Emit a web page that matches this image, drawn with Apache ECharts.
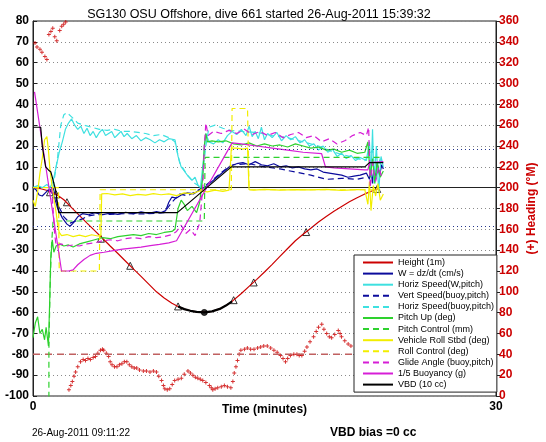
<!DOCTYPE html>
<html><head><meta charset="utf-8">
<script src="https://cdn.jsdelivr.net/npm/echarts@6/dist/echarts.min.js"></script>
<style>html,body{margin:0;padding:0;background:#fff}#c{width:546px;height:442px}</style>
</head><body><div id="c"></div>
<script>
// ---- data (time in minutes) ----
const titleText = 'SG130 OSU Offshore, dive 661 started 26-Aug-2011 15:39:32';
const legendNames = ['Height (1m)','W = dz/dt (cm/s)','Horiz Speed(W,pitch)','Vert Speed(buoy,pitch)','Horiz Speed(buoy,pitch)','Pitch Up (deg)','Pitch Control (mm)','Vehicle Roll Stbd (deg)','Roll Control (deg)','Glide Angle (buoy,pitch)','1/5 Buoyancy (g)','VBD (10 cc)'];
const xTicks = [0, 30];
const leftTicks = [-100, 80, 10];
const rightTicks = [0, 360, 20];

const heightData = [[0,0],[0.5,-0.5],[1,-1.5],[1.5,-3.2],[2,-5.8],[2.5,-9.6],[3,-13.3],[3.5,-17],[4,-20.6],[4.5,-24.3],[5,-28],[5.5,-31.6],[6,-35.3],[6.5,-39],[7,-42.6],[7.5,-46.3],[8,-50],[8.5,-53],[9,-55.5],[9.4,-57],[9.8,-58.3],[10.2,-59.1],[10.6,-59.6],[11.1,-59.9],[11.6,-59.4],[12.1,-58.2],[12.5,-56.6],[12.9,-54.6],[13.5,-50.8],[14,-47.4],[14.5,-44],[15,-40.5],[15.5,-36.8],[16,-33],[16.5,-29.2],[17,-25.5],[17.5,-22.4],[18,-19.5],[18.5,-16.5],[19,-13.8],[19.5,-11.3],[20,-9],[20.5,-6.8],[21,-4.8],[21.5,-3],[22,-1.5],[22.4,-0.4]];
const apogeeData = [[9.4,-57],[9.8,-58.3],[10.2,-59.1],[10.6,-59.6],[11.1,-59.9],[11.6,-59.4],[12.1,-58.2],[12.5,-56.6],[12.9,-54.6]];
const eventData = [[1.1,-2.2],[1.5,-3.2],[2.2,-7],[4.4,-24.5],[6.3,-37.5],[9.4,-57],[13.0,-54],[14.3,-45.5],[17.7,-21.3],[22.3,-0.6]];
const apogeePoint = [[11.1,-59.9]];

const wData = [[0,0],[0.2,-1],[0.4,-3.5],[0.6,-4],[0.8,-2.5],[1.0,-1],[1.2,-2],[1.4,-5],[1.6,-10],[1.9,-14.5],[2.2,-17.5],[2.4,-18.5],[2.6,-17],[2.9,-14],[3.2,-12.5],[3.6,-13],[4,-12],[4.5,-13],[5,-12.2],[5.5,-12.8],[6,-11.8],[6.5,-12.5],[7,-11.6],[7.5,-12.3],[8,-11.5],[8.3,-12],[8.6,-11],[8.8,-7],[9,-4.5],[9.3,-5],[9.6,-3.5],[10,-2.5],[10.4,-3],[10.8,-1],[11.2,0.5],[11.6,3],[12,5.5],[12.4,8],[12.8,10.5],[13.2,11.5],[13.6,12],[14,11],[14.4,12.5],[14.8,11],[15.2,10.5],[15.6,11.5],[16,10],[16.4,10.5],[16.8,9.5],[17.2,10],[17.6,9],[18,8.5],[18.4,9],[18.8,7.5],[19.2,7],[19.6,6.5],[20,6],[20.4,5],[20.8,5.5],[21.2,6],[21.6,7],[21.8,4],[21.9,9],[22.0,2],[22.1,10],[22.2,4],[22.3,12],[22.45,6],[22.6,11],[22.7,9]];
const horizWData = [[0,0],[0.3,1],[0.6,0],[0.9,1.5],[1.1,0],[1.3,3],[1.5,10],[1.7,17],[1.9,22],[2.1,28],[2.3,31],[2.5,33],[2.7,30],[2.9,28],[3.1,29.5],[3.3,26],[3.5,28.5],[3.7,25],[3.9,27],[4.1,24],[4.3,26.5],[4.5,28],[4.7,25],[4.9,26],[5.1,27],[5.3,24],[5.5,25.5],[5.7,27],[5.9,24.5],[6.1,26],[6.4,23.5],[6.7,25],[7,22.5],[7.3,24],[7.6,23],[7.9,21.5],[8.2,23],[8.5,22],[8.8,23.5],[9.2,23],[9.4,15],[9.6,10],[9.8,8],[10,6],[10.3,3.5],[10.5,5],[10.7,1],[10.85,0],[11.05,14],[11.2,26],[11.4,22],[11.7,21],[12.0,23],[12.3,21.5],[12.6,25],[12.9,27],[13.2,25.5],[13.5,28],[13.8,25],[14.0,29.5],[14.2,24.5],[14.4,27],[14.6,23.5],[14.8,29],[15.0,23],[15.2,26],[15.5,24],[15.8,26.5],[16.1,22.5],[16.4,25],[16.7,23],[17.0,24.5],[17.3,21.5],[17.6,23],[17.9,20],[18.2,21],[18.5,18],[18.8,20],[19.1,17],[19.4,18.5],[19.7,15],[20.0,16.5],[20.3,14],[20.6,15.5],[20.9,13],[21.2,14.5],[21.6,13],[21.8,22],[21.9,5],[22,28],[22.1,2],[22.25,20],[22.4,-2],[22.55,15],[22.7,10]];
const vertBuoyData = [[1.3,0],[1.6,-8],[2,-14],[2.4,-17],[2.8,-16],[3.2,-15],[3.6,-13.5],[4,-13],[5,-12.8],[6,-12.5],[7,-12.6],[8,-12.3],[8.5,-12],[9,-7],[9.5,-3],[10,-4],[10.5,-2],[11,0],[11.5,3],[12,6],[12.5,9],[13,11],[14,11.5],[15,10],[16,9],[17,7.5],[18,6],[19,4],[20,4.5],[21,4],[21.6,5]];
const horizBuoyData = [[1.3,0],[1.6,15],[1.8,30],[2.0,35],[2.2,36],[2.5,34],[2.9,31],[3.3,30],[3.8,29],[4.3,28],[4.8,27.5],[5.3,28],[5.8,27],[6.3,27],[6.8,26.5],[7.3,26],[7.8,25],[8.3,25.5],[8.8,24],[9.2,22],[9.5,12],[10,6],[10.5,2],[10.9,0],[11.2,20],[11.4,29],[11.8,30],[12.3,28.5],[12.8,27.5],[13.5,27],[14.5,26.5],[15.5,25],[16.5,24],[17.5,22],[18.5,20],[19.5,17],[20.5,15],[21.5,13],[22,18],[22.2,6],[22.5,14]];
const pitchData = [[0,-72],[0.15,-65],[0.3,-62],[0.45,-70],[0.6,-68],[0.75,-73],[0.85,-67],[1.0,-76],[1.08,-55],[1.15,-34],[1.25,-25],[1.35,-31],[1.5,-28],[1.7,-27],[2,-28],[2.3,-27.5],[2.6,-28.5],[3,-27],[3.5,-26],[4,-25],[4.5,-24],[5,-24.5],[5.5,-23.5],[6,-23],[6.5,-22.5],[7,-23],[7.5,-22],[8,-22.5],[8.5,-21.5],[9,-21],[9.2,-20],[9.4,-10],[9.6,-6],[9.8,-8],[10,-11],[10.3,-9],[10.6,-12],[10.8,-7],[11.0,5],[11.1,20],[11.2,26],[11.3,22],[11.6,22.5],[12,22],[12.5,22.5],[13,21],[13.5,20.5],[14,21.5],[14.5,20],[15,21],[15.5,20],[16,20.5],[16.5,19.5],[17,21],[17.5,20],[18,19],[18.5,19.5],[19,18],[19.5,18.5],[20,17],[20.5,18],[21,16.5],[21.5,17],[21.7,22],[21.85,5],[22,14],[22.15,2],[22.3,12],[22.5,5],[22.7,8]];
const pitchCtlData = [[1.03,-120],[1.03,-78],[1.1,-50],[1.18,-30],[1.3,-16],[3,-16],[6,-16],[9.3,-16],[11.1,-16],[11.15,14.5],[15,14.5],[20.5,14.5],[22.5,14.5]];
const rollData = [[0,-6],[0.15,-9],[0.3,-2],[0.45,7],[0.6,14],[0.75,23],[0.9,24.5],[1.0,18],[1.1,8.5],[1.3,-2.6],[1.5,-12],[1.6,-18],[1.7,-21.5],[1.85,-23],[2.2,-22.5],[2.6,-23.5],[3,-22.8],[3.4,-23.5],[3.8,-22.6],[4.2,-23.2],[4.4,-23],[4.45,-3],[4.8,-2.8],[5.3,-3.5],[5.8,-3],[6.3,-3.8],[6.8,-3.2],[7.3,-3.6],[7.8,-2.9],[8.3,-3.4],[8.8,-3],[9.3,-3.8],[9.8,-2.5],[10.3,-3],[10.8,-1.5],[11.3,-2],[11.8,-1.2],[12.3,-1.8],[12.7,-1.2],[12.85,19],[13.2,19],[13.6,18.5],[13.9,19],[14.0,-1],[14.3,-1.2],[15,-0.8],[16,-1.2],[17,-0.9],[18,-1.1],[19,-0.8],[20,-1.3],[21,-0.9],[21.5,-1],[21.7,-8],[21.8,3],[21.9,-11],[22.05,1],[22.2,-4],[22.35,2],[22.5,-6],[22.7,-3]];
const rollCtlData = [[0,0],[1.65,0],[1.7,-40],[4.3,-40],[4.35,-1],[12.85,-1],[12.9,38],[13.9,38],[14.0,-1],[22.5,-1]];
const glideData = [[1.2,0],[1.3,-10],[1.4,-22],[1.5,-28],[1.8,-27],[2.2,-28],[2.6,-27.5],[3,-28],[3.5,-27],[4,-26.5],[4.5,-25.5],[5,-25],[5.5,-25.5],[6,-24.5],[6.5,-24],[7,-24.5],[7.5,-23.5],[8,-24],[8.5,-23.5],[9,-22.5],[9.3,-21],[9.6,-18],[9.9,-22],[10.2,-20],[10.5,-23],[10.8,-17],[11,0],[11.1,20],[11.2,31],[11.35,25],[11.7,27],[12.2,26],[12.7,27.5],[13.2,26],[13.7,28],[14.2,25.5],[14.7,27],[15.2,25],[15.7,26.5],[16.2,24],[16.7,25.5],[17.2,26.5],[17.7,24],[18.2,25],[18.7,22],[19.2,23.5],[19.7,21],[20.2,22.5],[20.7,25],[21.2,26.5],[21.6,25],[21.75,29],[21.85,0],[22,12],[22.2,3],[22.4,10],[22.6,5]];
const buoyData = [[0.1,46],[1.85,-40],[2.3,-40],[2.6,-39.5],[2.9,-37],[3.3,-34.5],[3.7,-32.5],[4.1,-31.5],[4.6,-31],[5.2,-30.2],[5.8,-29.5],[6.4,-29],[7,-28.5],[7.6,-27.8],[8.2,-27.2],[8.8,-26.5],[9.3,-25.5],[12.9,21.5],[13.5,21],[14.5,20],[15.5,19],[16.5,18],[17.5,17],[18.7,16.3],[18.95,10],[19.5,9.5],[20.5,9],[21.5,8.5],[21.7,8.5],[21.8,12],[22.7,12.5]];
const vbdData = [[0,29],[0.5,29],[0.6,20],[0.82,10],[1.0,8.5],[1.16,7.5],[1.24,5.3],[1.46,-1],[1.67,-12],[2,-12],[9.35,-12],[12.85,10],[21.5,10],[21.8,12],[22.7,12]];
const headingData = [[0.13,339],[0.26,335],[0.45,333],[0.58,330],[0.77,326],[0.9,323],[1.03,347],[1.16,350],[1.28,353],[1.41,345],[1.54,341],[1.73,351],[1.86,355],[1.99,357],[2.12,359],[2.33,6],[2.45,10],[2.55,14],[2.66,19],[2.76,23],[2.9,28],[3.08,33],[3.25,35],[3.4,34],[3.56,36],[3.72,35],[3.9,37],[4.05,38],[4.2,41],[4.37,44],[4.5,45],[4.58,44],[4.75,41],[4.9,38],[5.0,33],[5.12,30],[5.28,28],[5.44,28],[5.6,30],[5.76,31],[5.92,33],[6.08,33],[6.24,30],[6.4,28],[6.56,27],[6.72,27],[6.9,25],[7.15,24],[7.35,24],[7.58,23],[7.8,24],[8.0,23],[8.15,19],[8.33,15],[8.45,10],[8.54,7],[8.7,6],[8.86,7],[9.02,11],[9.18,15],[9.4,16],[9.61,17],[9.8,21],[10.04,24],[10.2,22],[10.36,20],[10.52,18],[10.68,17],[10.84,16],[11.0,15],[11.2,13],[11.43,10],[11.55,8],[11.65,6],[11.8,7],[11.97,8],[12.2,9],[12.4,10],[12.6,9],[12.82,8],[12.95,14],[13.04,22],[13.15,28],[13.25,34],[13.36,40],[13.47,44],[13.7,45],[13.89,46],[14.1,45],[14.32,45],[14.55,46],[14.75,47],[14.95,48],[15.18,48],[15.4,46],[15.61,44],[15.82,42],[16.04,39],[16.2,36],[16.36,33],[16.5,36],[16.68,39],[16.9,40],[17.1,40],[17.25,39],[17.42,39],[17.6,43],[17.75,47],[17.95,52],[18.18,57],[18.35,62],[18.5,66],[18.71,69],[18.85,64],[19.03,60],[19.2,57],[19.35,56],[19.55,59],[19.78,63],[19.9,60],[19.99,57],[20.2,53],[20.42,50],[20.6,48]];
const headingTarget = [[0,40],[22.5,40]];
const glideLimits = [18.5, -18.5];
const bottomLeftText = '26-Aug-2011 09:11:22';
const bottomRightText = 'VBD bias =0 cc';

// ---- chart ----
const FONT = 'Liberation Sans, Arial, sans-serif';
const C = {red:'#cc0000', navy:'#0b0b9c', cyan:'#3ee0e0', green:'#2ed12e', yellow:'#f2ee00', magenta:'#d61ed6', black:'#000'};
function line(name, data, color, dashed, extra) {
  return Object.assign({
    name, type:'line', data, symbol:'none', clip:true, animation:false,
    lineStyle:{color, width:1.2, type: dashed ? [6,4] : 'solid'},
    itemStyle:{color}, emphasis:{disabled:true}
  }, extra || {});
}
const chart = echarts.init(document.getElementById('c'), null, {renderer:'canvas'});
const option = {
  animation:false,
  backgroundColor:'#fff',
  title:{text:titleText, left:254, top:3, textAlign:'center',
    textStyle:{fontFamily:FONT, fontSize:12.5, fontWeight:'normal', color:'#000'}},
  grid:{left:33, right:47, top:21, bottom:46, show:true, borderColor:'#222', borderWidth:1, backgroundColor:'#fff'},
  legend:{
    data:legendNames, orient:'vertical', left:354, top:255,
    itemWidth:30, itemHeight:10, itemGap:2.1, padding:[3,3,3,8],
    backgroundColor:'#fff', borderColor:'#222', borderWidth:1, borderRadius:0,
    selectedMode:false,
    itemStyle:{opacity:0, borderWidth:0},
    textStyle:{fontFamily:FONT, fontSize:9, color:'#000'}
  },
  xAxis:{type:'value', min:xTicks[0], max:xTicks[1], interval:xTicks[1]-xTicks[0],
    name:'Time (minutes)', nameLocation:'middle', nameGap:8, nameMoveOverlap:false,
    nameTextStyle:{fontFamily:FONT, fontSize:12, fontWeight:'bold', color:'#000'},
    axisLine:{lineStyle:{color:'#222'}}, axisTick:{inside:true, length:4, lineStyle:{color:'#222'}},
    axisLabel:{fontFamily:FONT, fontSize:12, fontWeight:'bold', color:'#000', margin:5},
    splitLine:{show:false}},
  yAxis:[
    {type:'value', min:leftTicks[0], max:leftTicks[1], interval:leftTicks[2], position:'left',
      axisLine:{show:true, lineStyle:{color:'#222'}}, axisTick:{show:true, inside:true, length:4, lineStyle:{color:'#222'}},
      axisLabel:{fontFamily:FONT, fontSize:12, fontWeight:'bold', color:'#000', margin:4},
      splitLine:{show:true, lineStyle:{color:'#8a8a8a', type:[1,3], width:1}}},
    {type:'value', min:rightTicks[0], max:rightTicks[1], interval:rightTicks[2], position:'right',
      name:'(+) Heading (°M)', nameLocation:'middle', nameGap:30, nameRotate:90, nameMoveOverlap:false,
      nameTextStyle:{fontFamily:FONT, fontSize:12, fontWeight:'bold', color:C.red},
      axisLine:{show:true, lineStyle:{color:'#222'}}, axisTick:{show:true, inside:false, length:4, lineStyle:{color:'#222'}},
      axisLabel:{fontFamily:FONT, fontSize:12, fontWeight:'bold', color:C.red, margin:3},
      splitLine:{show:false}}
  ],
  graphic:[
    {type:'text', left:32, top:428, style:{text:bottomLeftText, font:'10px '+FONT, fill:'#000'}},
    {type:'text', left:330, top:427, style:{text:bottomRightText, font:'bold 12px '+FONT, fill:'#000'}}
  ],
  series:[
    line('heading target', headingTarget, '#c06060', true, {yAxisIndex:1, lineStyle:{color:'#c06060', width:1.5, type:[7,5]}}),
    {name:'heading', type:'scatter', yAxisIndex:1, data:headingData, animation:false,
      symbol:'path://M3,0H5V3H8V5H5V8H3V5H0V3H3Z', symbolSize:4, itemStyle:{color:C.red}, silent:true},
    line(legendNames[0], heightData, C.red, false, {
      markLine:{silent:true, symbol:'none', label:{show:false}, animation:false,
        lineStyle:{color:'#22338a', type:[1,3], width:1.2},
        data:glideLimits.map(v => ({yAxis:v}))}}),
    line(legendNames[1], wData, C.navy, false),
    line(legendNames[2], horizWData, C.cyan, false),
    line(legendNames[3], vertBuoyData, C.navy, true),
    line(legendNames[4], horizBuoyData, C.cyan, true),
    line(legendNames[5], pitchData, C.green, false),
    line(legendNames[6], pitchCtlData, C.green, true),
    line(legendNames[7], rollData, C.yellow, false),
    line(legendNames[8], rollCtlData, C.yellow, true),
    line(legendNames[9], glideData, C.magenta, true),
    line(legendNames[10], buoyData, C.magenta, false),
    line(legendNames[11], vbdData, C.black, false),
    line('apogee', apogeeData, C.black, false, {lineStyle:{color:'#000', width:2.2}}),
    {name:'events', type:'scatter', data:eventData, symbol:'triangle', symbolSize:7, animation:false, silent:true,
      itemStyle:{color:'rgba(0,0,0,0)', borderColor:'#000', borderWidth:1}},
    {name:'apogee point', type:'scatter', data:apogeePoint, symbol:'circle', symbolSize:6, animation:false, silent:true,
      itemStyle:{color:'#000', borderColor:'#000', borderWidth:1}}
  ]
};
chart.setOption(option);
</script></body></html>
